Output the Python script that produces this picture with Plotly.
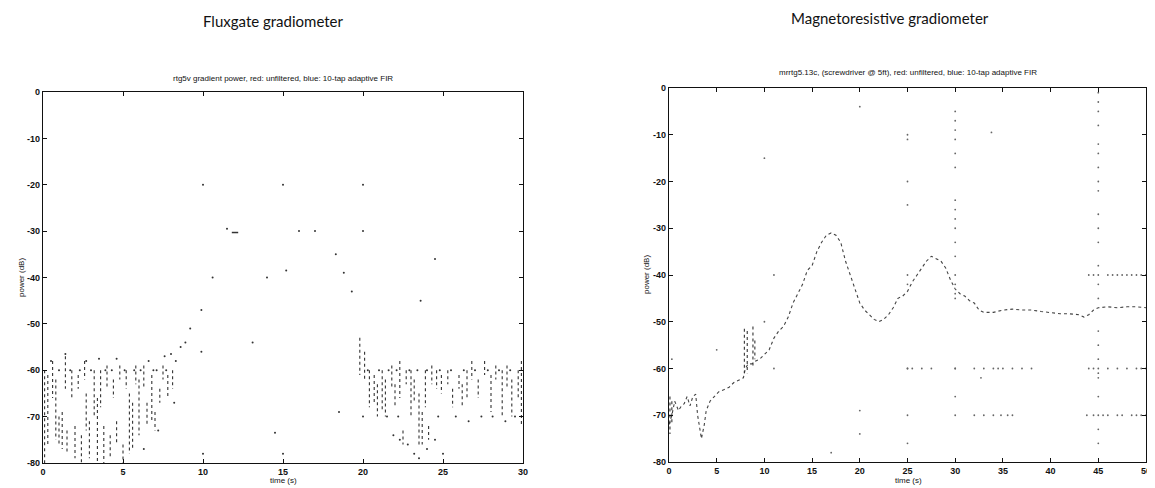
import plotly.graph_objects as go

# ---------------- data ----------------
# Left panel: fluxgate gradiometer, vertical dotted streaks (time, top dB, bottom dB)
flux_streak_t = [0.1, 0.3, 0.6, 0.8, 1.0, 1.2, 1.4, 1.5, 1.8, 2.0, 2.2, 2.4, 2.6, 2.7, 2.9,
                 3.2, 3.4, 3.6, 3.8, 4.0, 4.2, 4.4, 4.6, 4.8, 5.0, 5.2, 5.4, 5.6, 5.8, 6.0,
                 6.3, 6.5, 6.8, 7.0, 7.3, 7.5, 7.8, 8.1,
                 19.8, 20.1, 20.4, 20.7, 20.9, 21.2, 21.4, 21.8, 22.0, 22.3, 22.5, 22.7,
                 23.0, 23.2, 23.5, 23.7, 23.9, 24.1, 24.3, 24.6, 24.9, 25.3, 25.6, 26.0,
                 26.2, 26.5, 26.8, 27.2, 27.6, 28.0, 28.3, 28.7, 29.0, 29.3, 29.7, 29.9]
flux_streak_top = [-60, -61, -58, -62, -70, -69, -57, -73, -60, -72, -61, -74, -58, -65, -71,
                   -60, -66, -60, -72, -59, -74, -62, -71, -59, -76, -60, -65, -67, -59, -62,
                   -59, -67, -61, -69, -64, -59, -61, -60,
                   -53, -56, -60, -61, -63, -60, -62, -59, -63, -58, -73, -60,
                   -60, -62, -65, -69, -60, -72, -59, -60, -61, -60, -64, -61,
                   -63, -60, -58, -62, -58, -61, -59, -60, -59, -62, -60, -58]
flux_streak_bot = [-80, -76, -66, -75, -76, -77, -64, -78, -66, -79, -64, -80, -62, -73, -79,
                   -70, -80, -68, -80, -64, -79, -66, -76, -62, -80, -64, -78, -77, -63, -74,
                   -64, -72, -71, -73, -67, -62, -66, -64,
                   -61, -62, -68, -67, -70, -69, -70, -64, -68, -66, -76, -63,
                   -70, -67, -76, -76, -68, -75, -63, -64, -65, -63, -68, -64,
                   -68, -66, -62, -66, -61, -69, -62, -70, -64, -70, -66, -72]
# Left panel: isolated dots
flux_dot_t = [0.5, 1.4, 2.7, 3.5, 4.6, 6.6, 7.6, 8.0, 8.3, 8.6, 8.9, 9.2, 9.9, 10.6, 11.5,
              10.0, 15.0, 20.0, 14.0, 15.2, 16.0, 17.0, 18.3, 18.8, 19.3, 20.0, 23.6, 24.5,
              13.1, 9.9, 8.2, 7.2, 6.3, 14.5, 18.5, 10.0, 15.0, 20.0, 25.0,
              1.0, 1.7, 2.3, 3.0, 3.9, 4.3, 5.1, 5.7, 6.1, 6.9, 7.1, 7.7,
              20.3, 21.0, 21.6, 22.1, 22.9, 23.4, 24.0, 24.8, 25.5, 26.3, 27.0, 27.8, 28.5, 29.2,
              21.5, 22.2, 24.7, 25.8, 26.6, 27.4, 28.1, 28.9, 29.5,
              22.3, 23.2, 24.0, 24.5, 23.5, 21.9, 22.8]
flux_dot_p = [-58, -56.5, -58, -57.5, -57.5, -58, -57, -56.5, -58, -55, -54, -51, -47, -40, -29.5,
              -20, -20, -20, -40, -38.5, -30, -30, -35, -39, -43, -30, -45, -36,
              -54, -56, -67, -73, -77, -73.5, -69, -78, -78, -70, -78,
              -60, -60, -60, -60, -60, -60, -60, -60, -60, -60, -60, -60,
              -60, -60, -60, -60, -60, -60, -60, -60, -60, -60, -60, -60, -60, -60,
              -70, -70, -70, -70, -71, -70, -70, -71, -70,
              -75, -78, -77, -75, -79, -74, -76]
# short dash near (12, -30.3)
flux_dash_t = [11.8, 12.2]
flux_dash_p = [-30.3, -30.3]

# Right panel: magnetoresistive gradiometer, main trace
mr_t = [0, 0.3, 0.6, 1.0, 1.3, 1.6, 1.9, 2.2, 2.5, 2.8, 3.0, 3.2, 3.4, 3.7, 3.9, 4.3, 4.7,
        5.2, 5.8, 6.3, 6.8, 7.3, 7.8, 8.0, 8.3, 8.7, 9.0, 9.5, 10.0, 10.5, 11.0, 11.5, 12.0,
        12.5, 13.0, 13.5, 14.0, 14.5, 15.0, 15.5, 16.0, 16.5, 17.0, 17.5, 18.0, 18.5, 19.0,
        19.5, 20.0, 20.5, 21.0, 21.5, 22.0, 22.5, 23.0, 23.5, 24.0, 24.5, 25.0, 25.5, 26.0,
        26.5, 27.0, 27.5, 28.0, 28.5, 29.0, 29.5, 30.0, 30.5, 31.0, 31.5, 32.0, 32.5, 33.0,
        34.0, 35.0, 36.0, 37.0, 38.0, 39.0, 40.0, 41.0, 42.0, 43.0, 43.5, 44.0, 44.5, 45.0,
        46.0, 47.0, 48.0, 49.0, 50.0]
mr_p = [-72, -70, -67, -69, -68, -67.5, -66, -68, -66, -65.5, -70, -73, -75, -72, -69, -67, -66,
        -65, -64.5, -64, -63, -62.5, -62, -60, -59, -59, -58.5, -58, -57, -56, -53.5, -52, -51,
        -49, -46, -44, -42, -39, -38, -35, -33, -31.5, -31, -31.5, -33, -37, -40,
        -43, -46, -47.5, -48.5, -49.5, -50, -49.5, -48.5, -47, -45, -44.5, -43.5, -41.5, -40,
        -38.5, -37, -36, -36.5, -37, -38.5, -41, -43, -44, -44.5, -45.5, -46, -47.5, -48,
        -48, -47.5, -47.3, -47.5, -47.5, -47.8, -48, -48.3, -48.3, -48.5, -49, -48.5, -47.5, -47,
        -46.8, -47, -46.8, -46.8, -47]
# Right panel: vertical dotted spikes (time, top dB, bottom dB)
mr_streak_t = [0.1, 0.3, 7.9, 8.2, 8.8, 9.0]
mr_streak_top = [-66, -67, -51.5, -52, -51, -54]
mr_streak_bot = [-74, -72, -61, -61, -60, -58]
# Right panel: isolated dots
mr_dot_t = ([45] * 26 + [30] * 19 + [25] * 8 +
            [44, 44.5, 46, 46.5, 47, 47.5, 48, 48.5, 49, 49.5, 50] +
            [25, 25.5, 26.5, 27.5, 30, 32, 33, 34, 34.5, 35, 36, 37, 38, 44, 44.5, 46, 47, 48, 49, 49.5, 50] +
            [32, 33, 34, 34.8, 35.5, 36, 43.8, 44.5, 45.5, 46, 47, 47.5, 48.5, 49, 49.5, 50] +
            [33.8, 20, 10, 11, 10, 11, 5, 0.3, 20, 20, 17, 25, 32.7])
mr_dot_p = ([-1, -3, -5, -8, -12, -14, -17, -20, -22, -27, -30, -33, -38, -40, -42, -45, -52, -55,
             -58, -60, -61, -62, -66, -70, -73, -76] +
            [-5, -7, -9, -11, -14, -17, -24, -26, -28, -30, -33, -36, -40, -42, -44, -45, -60, -66, -70] +
            [-10, -11, -20, -25, -40, -42, -60, -70] +
            [-40] * 11 + [-60] * 21 + [-70] * 16 +
            [-9.5, -4, -15, -40, -50, -60, -56, -58, -69, -74, -78, -76, -62])

flux_xticks = [0, 5, 10, 15, 20, 25, 30]
flux_xticktext = ["0", "5", "10", "15", "20", "25", "30"]
mr_xticks = [0, 5, 10, 15, 20, 25, 30, 35, 40, 45, 50]
mr_xticktext = ["0", "5", "10", "15", "20", "25", "30", "35", "40", "45", "50"]
yticks = [0, -10, -20, -30, -40, -50, -60, -70, -80]
yticktext = ["0", "-10", "-20", "-30", "-40", "-50", "-60", "-70", "-80"]

panel_titles = ["Fluxgate gradiometer", "Magnetoresistive gradiometer"]
plot_titles = ["rtg5v gradient power, red: unfiltered, blue: 10-tap adaptive FIR",
               "mrrtg5.13c, (screwdriver @ 5ft), red: unfiltered, blue: 10-tap adaptive FIR"]
x_label = "time (s)"
y_label = "power (dB)"

# ---------------- figure ----------------
INK = "#333333"


def segments(ts, tops, bots):
    xs, ys = [], []
    for t, a, b in zip(ts, tops, bots):
        xs += [t, t, None]
        ys += [a, b, None]
    return xs, ys


fig = go.Figure()

sx, sy = segments(flux_streak_t, flux_streak_top, flux_streak_bot)
fig.add_trace(go.Scatter(x=sx, y=sy, mode="lines", xaxis="x", yaxis="y",
                         line=dict(color=INK, width=1.1, dash="dot"), hoverinfo="skip"))
fig.add_trace(go.Scatter(x=flux_dot_t, y=flux_dot_p, mode="markers", xaxis="x", yaxis="y",
                         marker=dict(color=INK, size=2)))
fig.add_trace(go.Scatter(x=flux_dash_t, y=flux_dash_p, mode="lines", xaxis="x", yaxis="y",
                         line=dict(color=INK, width=1.5)))

sx2, sy2 = segments(mr_streak_t, mr_streak_top, mr_streak_bot)
fig.add_trace(go.Scatter(x=mr_t, y=mr_p, mode="lines", xaxis="x2", yaxis="y2",
                         line=dict(color="#444444", width=1.1, dash="dot")))
fig.add_trace(go.Scatter(x=sx2, y=sy2, mode="lines", xaxis="x2", yaxis="y2",
                         line=dict(color=INK, width=1.1, dash="dot"), hoverinfo="skip"))
fig.add_trace(go.Scatter(x=mr_dot_t, y=mr_dot_p, mode="markers", xaxis="x2", yaxis="y2",
                         marker=dict(color="#666666", size=1.8)))

# page body has an 8px default margin, so the figure is drawn 8px right and down
OFF = 8
W, H = 1155 - OFF, 488 - OFF


def px_x(p):
    return (p - OFF) / W


def px_y(p):
    return (H - (p - OFF)) / H


tickfont = dict(family="Liberation Sans, Arial", size=9, color="#111", weight="bold")
axis_common = dict(showline=True, linecolor="#111", linewidth=1.2, mirror="ticks",
                   ticks="inside", ticklen=4, tickcolor="#111", showgrid=False,
                   zeroline=False, tickfont=tickfont, automargin=False, tickmode="array")

fig.update_layout(
    width=W, height=H, margin=dict(l=0, r=0, t=0, b=0),
    paper_bgcolor="white", plot_bgcolor="white", showlegend=False,
    xaxis=dict(domain=[px_x(43), px_x(523)], range=[0, 30], tickvals=flux_xticks,
               ticktext=flux_xticktext, anchor="y", **axis_common),
    yaxis=dict(domain=[px_y(463), px_y(92)], range=[-80, 0], tickvals=yticks,
               ticktext=yticktext, anchor="x", **axis_common),
    xaxis2=dict(domain=[px_x(669), px_x(1146)], range=[0, 50], tickvals=mr_xticks,
                ticktext=mr_xticktext, anchor="y2", **axis_common),
    yaxis2=dict(domain=[px_y(462), px_y(88)], range=[-80, 0], tickvals=yticks,
                ticktext=yticktext, anchor="x2", **axis_common),
)

small = dict(family="Liberation Sans, Arial", size=8, color="#111")
big = dict(family="Lato, Open Sans, sans-serif", size=15, color="#111")
ann = [
    dict(text=panel_titles[0], x=px_x(273), y=px_y(21), font=big),
    dict(text=panel_titles[1], x=px_x(890), y=px_y(18), font=big),
    dict(text=plot_titles[0], x=px_x(283), y=px_y(78), font=small),
    dict(text=plot_titles[1], x=px_x(908), y=px_y(73), font=small),
    dict(text=x_label, x=px_x(283), y=px_y(480), font=small),
    dict(text=x_label, x=px_x(908), y=px_y(480), font=small),
    dict(text=y_label, x=px_x(21), y=px_y(278), font=small, textangle=-90),
    dict(text=y_label, x=px_x(646), y=px_y(275), font=small, textangle=-90),
]
for a in ann:
    a.update(xref="paper", yref="paper", showarrow=False, xanchor="center", yanchor="middle")
fig.update_layout(annotations=ann)

fig.write_html("out.html")
